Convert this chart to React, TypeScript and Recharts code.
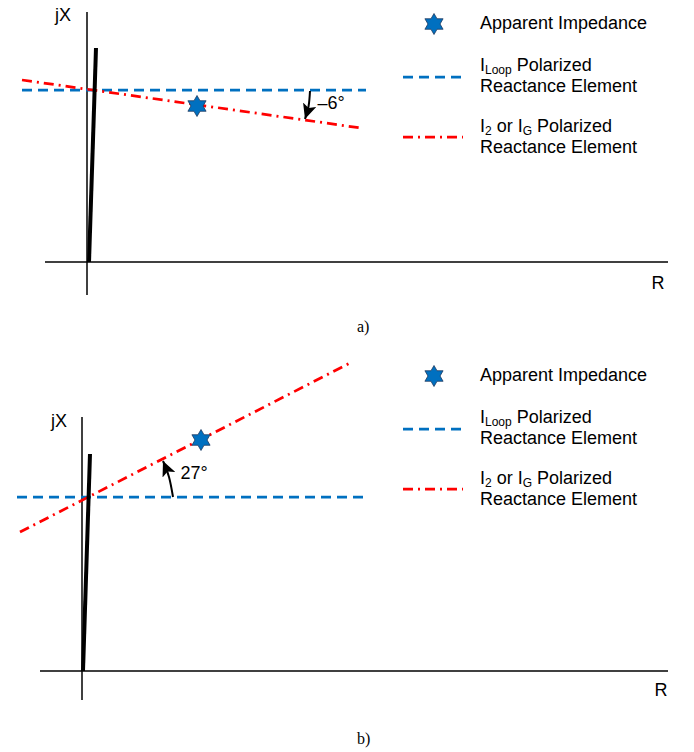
import { ComposedChart, XAxis, YAxis, Line, Scatter, ReferenceDot } from 'recharts'

const FONT = '"Liberation Sans", Arial, sans-serif'
const SERIF = '"Liberation Serif", "Times New Roman", serif'
const BLUE = '#0070C0'
const RED = '#FF0000'
const W = 694

// panel a) values in ohms (R, X)
const rAxisA = [{ x: -2.1, y: 0 }, { x: 29.05, y: 0 }]
const xAxisA = [{ x: 0, y: 12.5 }, { x: 0, y: -1.65 }]
const charA = [{ x: 0.1, y: 0 }, { x: 0.45, y: 10.7 }]
const loopA = [{ x: -3.25, y: 8.6 }, { x: 13.95, y: 8.6 }]
const i2A = [{ x: -3.25, y: 9.1 }, { x: 13.7, y: 6.7 }]
const zA = [{ x: 5.5, y: 7.8 }]
const arrowA = [{ x: 11.15, y: 8.55 }, { x: 11.08, y: 7.8 }, { x: 10.9, y: 7.15 }]

// panel b)
const rAxisB = [{ x: -2.1, y: 0 }, { x: 29.3, y: 0 }]
const xAxisB = [{ x: 0, y: 12.7 }, { x: 0, y: -1.45 }]
const charB = [{ x: 0.05, y: 0 }, { x: 0.4, y: 10.85 }]
const loopB = [{ x: -3.25, y: 8.7 }, { x: 14.2, y: 8.7 }]
const i2B = [{ x: -3.1, y: 6.95 }, { x: 13.5, y: 15.45 }]
const zB = [{ x: 5.95, y: 11.55 }]
const arrowB = [{ x: 4.55, y: 8.7 }, { x: 4.35, y: 9.7 }, { x: 4.05, y: 10.5 }]

// text labels [x, y, text]
const labelsA: [number, number, string][] = [
  [-1.2, 12.35, 'jX'],
  [28.55, -1.05, 'R'],
  [12.2, 7.95, '\u20136\u00b0'],
]
const labelsB: [number, number, string][] = [
  [-1.15, 12.5, 'jX'],
  [28.95, -0.95, 'R'],
  [5.6, 9.9, '27\u00b0'],
]

const domainXA: [number, number] = [-4.35, 30.35]
const domainYA: [number, number] = [-4.5, 13.1]
const domainXB: [number, number] = [-4.1, 30.6]
const domainYB: [number, number] = [-4.05, 15.95]

function Star({ cx, cy, r = 10.5 }: { cx: number; cy: number; r?: number }) {
  const pts: string[] = []
  for (let i = 0; i < 12; i++) {
    const a = (Math.PI / 6) * i - Math.PI / 2
    const rad = i % 2 === 0 ? r : r / Math.sqrt(3)
    pts.push(`${cx + rad * Math.cos(a)},${cy + rad * Math.sin(a)}`)
  }
  return <polygon points={pts.join(' ')} fill={BLUE} stroke="#1F3A60" strokeWidth={0.8} />
}

interface PanelProps {
  height: number
  dx: [number, number]
  dy: [number, number]
  rAxis: { x: number; y: number }[]
  xAxis: { x: number; y: number }[]
  chr: { x: number; y: number }[]
  loop: { x: number; y: number }[]
  i2: { x: number; y: number }[]
  z: { x: number; y: number }[]
  arrow: { x: number; y: number }[]
  labels: [number, number, string][]
}

function Panel({ height, dx, dy, rAxis, xAxis, chr, loop, i2, z, arrow, labels }: PanelProps) {
  const line = (data: { x: number; y: number }[], stroke: string, width: number, dash?: string) => (
    <Line
      data={data}
      dataKey="y"
      stroke={stroke}
      strokeWidth={width}
      strokeDasharray={dash}
      dot={false}
      activeDot={false}
      isAnimationActive={false}
    />
  )
  return (
    <ComposedChart width={W} height={height} margin={{ top: 0, right: 0, bottom: 0, left: 0 }}>
      <XAxis type="number" dataKey="x" domain={dx} hide allowDataOverflow />
      <YAxis type="number" dataKey="y" domain={dy} hide allowDataOverflow />
      {line(rAxis, '#000', 1.5)}
      {line(xAxis, '#000', 1.5)}
      {line(loop, BLUE, 2.75, '10 6')}
      {line(i2, RED, 2.75, '10 5 2 5')}
      {line(chr, '#000', 4)}
      <Line
        data={arrow}
        dataKey="y"
        type="natural"
        stroke="#000"
        strokeWidth={2}
        dot={false}
        activeDot={false}
        markerEnd="url(#arrowHead)"
        isAnimationActive={false}
      />
      <Scatter
        data={z}
        dataKey="y"
        isAnimationActive={false}
        shape={(p: any) => <Star cx={p.cx} cy={p.cy} />}
      />
      {labels.map(([x, y, t]) => (
        <ReferenceDot
          key={t}
          x={x}
          y={y}
          r={0}
          stroke="none"
          fill="none"
          label={{ value: t, position: 'center', fill: '#000', fontSize: 18, fontFamily: FONT }}
        />
      ))}
    </ComposedChart>
  )
}

function Key() {
  const text: React.CSSProperties = {
    position: 'absolute',
    left: 480,
    fontFamily: FONT,
    fontSize: 18,
    lineHeight: '21px',
    color: '#000',
    whiteSpace: 'nowrap',
  }
  const sub: React.CSSProperties = {
    display: 'inline-block',
    fontSize: 12,
    lineHeight: '11px',
    height: 11,
    verticalAlign: -3,
  }
  return (
    <>
      <svg width={24} height={24} style={{ position: 'absolute', left: 422, top: 12 }}>
        <Star cx={12} cy={12} />
      </svg>
      <div style={{ ...text, top: 13 }}>Apparent Impedance</div>

      <svg width={62} height={6} style={{ position: 'absolute', left: 402, top: 74 }}>
        <line x1={1} y1={3} x2={61} y2={3} stroke={BLUE} strokeWidth={2.75} strokeDasharray="10 6" />
      </svg>
      <div style={{ ...text, top: 55 }}>
        <div style={{ height: 21 }}>
          I<span style={sub}>Loop</span> Polarized
        </div>
        <div style={{ height: 21 }}>Reactance Element</div>
      </div>

      <svg width={62} height={6} style={{ position: 'absolute', left: 402, top: 134 }}>
        <line x1={1} y1={3} x2={61} y2={3} stroke={RED} strokeWidth={2.75} strokeDasharray="10 5 2 5" />
      </svg>
      <div style={{ ...text, top: 116 }}>
        <div style={{ height: 21 }}>
          I<span style={sub}>2</span> or I<span style={sub}>G</span> Polarized
        </div>
        <div style={{ height: 21 }}>Reactance Element</div>
      </div>
    </>
  )
}

export default function App() {
  const caption: React.CSSProperties = {
    position: 'absolute',
    left: 357,
    fontFamily: SERIF,
    fontSize: 16,
    color: '#000',
  }
  return (
    <div style={{ position: 'absolute', left: 0, top: 0, width: W, height: 752, background: '#fff' }}>
      <svg width={0} height={0} style={{ position: 'absolute' }}>
        <defs>
          <marker
            id="arrowHead"
            markerUnits="userSpaceOnUse"
            markerWidth={15}
            markerHeight={14}
            viewBox="0 0 15 14"
            refX={15}
            refY={7}
            orient="auto"
          >
            <path d="M0,0 L15,7 L0,14 L3.5,7 Z" fill="#000" />
          </marker>
        </defs>
      </svg>

      <div style={{ position: 'absolute', left: 0, top: 0, width: W, height: 352 }}>
        <Panel
          height={352}
          dx={domainXA}
          dy={domainYA}
          rAxis={rAxisA}
          xAxis={xAxisA}
          chr={charA}
          loop={loopA}
          i2={i2A}
          z={zA}
          arrow={arrowA}
          labels={labelsA}
        />
        <Key />
        <div style={{ ...caption, top: 318 }}>a)</div>
      </div>

      <div style={{ position: 'absolute', left: 0, top: 352, width: W, height: 400 }}>
        <Panel
          height={400}
          dx={domainXB}
          dy={domainYB}
          rAxis={rAxisB}
          xAxis={xAxisB}
          chr={charB}
          loop={loopB}
          i2={i2B}
          z={zB}
          arrow={arrowB}
          labels={labelsB}
        />
        <Key />
        <div style={{ ...caption, top: 378 }}>b)</div>
      </div>
    </div>
  )
}
